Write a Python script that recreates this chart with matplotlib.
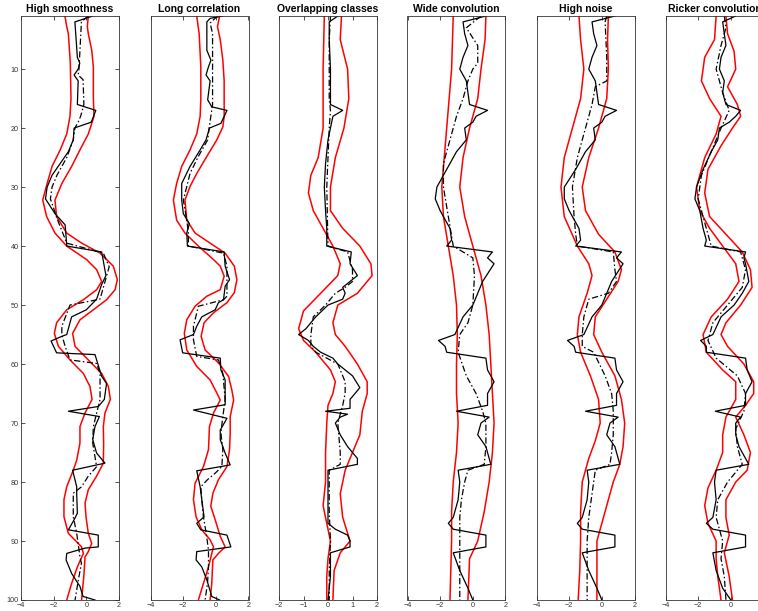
import numpy as np
import matplotlib
matplotlib.use("Agg")
import matplotlib.pyplot as plt

plt.rcParams['font.family'] = ['Liberation Sans', 'DejaVu Sans']

# panel titles and x ranges
titles = ["High smoothness", "Long correlation", "Overlapping classes",
          "Wide convolution", "High noise", "Ricker convolution"]
xlims = [(-4, 2), (-4, 2), (-2, 2), (-4, 2), (-4, 2), (-4, 2)]

# ---- High smoothness ----
hs_true_d = [1, 2, 8, 9, 10, 11, 12, 16, 17, 19, 20, 22, 24, 26, 28, 30, 32, 34.5, 36.4, 39.8, 40,
             41, 45, 46.5, 49, 50.8, 52, 53, 55, 55.3, 56.1, 58.1, 58.4, 59.3, 62.1, 63.3, 66, 67.2,
             68, 68.9, 70.6, 72.8, 75.1, 76.8, 78, 80.8, 82, 85.3, 86.4, 88.1, 89, 91, 91.2, 92.1,
             93.2, 95.5, 97.7, 99.4, 100]
hs_true_v = [0.4, -0.7, -0.55, -0.4, -0.5, -0.75, -0.5, -0.55, 0.58, 0.3, -0.75, -0.8, -1.1, -1.6,
             -2.1, -2.4, -2.5, -1.92, -1.3, -1.2, -1.2, 0.94, 1.2, 0.94, 0.63, 0.0, -0.9, -1.0, -1.2,
             -1.5, -2.16, -1.82, 0.53, 0.63, 0.94, 1.24, 1.1, 0.73, -1.1, 0.8, 0.53, 0.39, 0.63,
             1.14, -0.84, -0.59, -0.59, -0.55, -0.75, -1.1, 0.73, 0.73, -0.08, -1.2, -1.24, -0.9,
             -0.39, -0.2, 0.53]
hs_mean_d = [1, 2, 10, 11, 11.8, 16, 18, 19, 20, 22, 25, 28, 30, 32, 36, 39.5, 41.2, 43.5, 49,
             50, 53.6, 55, 57, 59.3, 59.9, 61.6, 66, 68.3, 70.6, 73.4, 77.4, 79, 80.8, 81.9, 85.9,
             88.7, 92.7, 93.8, 96.6, 100]
hs_mean_v = [0.1, -0.3, -0.45, -0.5, -0.2, -0.15, -0.35, -0.5, -0.7, -0.8, -1.2, -1.8, -2.1,
             -2.2, -1.7, -1.2, 1.04, 1.4, 0.84, -1.0, -1.5, -1.5, -1.3, -1.0, 0.63, 0.84, 0.84,
             0.63, 0.43, 0.39, 0.63, 0.12, -0.29, -0.8, -0.8, -0.59, -0.39, -0.3, -0.49, -0.69]
hs_lo_d = [1, 2.8, 4, 9, 15, 18, 21, 23.7, 26.5, 29.4, 32.2, 35, 37.8, 40, 42.3, 44, 46, 47.4,
           49.1, 50.8, 53, 54.8, 57, 59.3, 61.6, 63.8, 66, 68.3, 70.6, 73.4, 76.3, 78, 80.8, 83,
           85.9, 88.7, 91, 92.1, 94.4, 97.2, 100]
hs_lo_v = [-1.31, -1.2, -1.1, -0.98, -0.94, -1.0, -1.2, -1.6, -2.1, -2.4, -2.67, -2.43, -1.92,
           -1.2, 0.02, 0.63, 0.94, 0.63, -0.18, -1.2, -1.82, -1.96, -1.71, -1.0, -0.18, 0.22,
           0.35, -0.08, -0.39, -0.39, -0.59, -0.8, -1.2, -1.37, -1.37, -1.1, -0.29, -0.18, -0.55,
           -0.9, -1.2]
hs_hi_d = [1, 2.8, 4, 6.8, 9.6, 15, 18, 21, 23.7, 26.5, 29.4, 32.2, 35, 37.8, 39.5, 41.2, 43.4,
           45.7, 47.4, 49.1, 50.8, 52.5, 54.8, 57, 59.3, 61.6, 63.8, 66, 68.3, 70.6, 73.4, 76.8,
           79, 81.3, 83.6, 85.9, 88.7, 90.4, 91.8, 92.7, 95.5, 100]
hs_hi_v = [0.12, 0.06, 0.12, 0.33, 0.43, 0.43, 0.47, 0.12, -0.39, -0.9, -1.5, -1.92, -1.82, -1.2,
           -0.29, 0.84, 1.65, 1.9, 1.76, 1.24, 0.43, -0.39, -0.84, -0.69, 0.12, 0.94, 1.35, 1.47,
           1.14, 1.04, 1.06, 1.04, 0.63, 0.12, -0.08, -0.02, 0.12, 0.33, 0.12, -0.08, -0.14, -0.29]

# ---- Long correlation ----
lc_true_d = [1, 1.4, 2, 6.8, 8.5, 9.6, 11, 12, 15.2, 16.4, 17, 17.6, 19.2, 20, 22, 23.7, 26.5, 29.4,
             32.2, 34.5, 36.2, 37.8, 40, 41, 43.4, 45.7, 46.8, 49.1, 49.6, 50.8, 52, 53.6, 55, 55.9,
             58.1, 59, 61, 62.7, 66, 66.9, 67.8, 69.2, 71.2, 72.8, 75.1, 77.1, 78.1, 80.8, 83, 85.9,
             87, 88.1, 89, 91, 91.8, 93.2, 94.4, 96.6, 99.4, 100]
lc_true_v = [0.43, -0.35, -0.55, -0.55, -0.3, -0.45, -0.6, -0.35, -0.5, -0.25, 0.68, 0.58, 0.31,
             -0.39, -0.6, -0.96, -1.58, -2.09, -2.09, -1.99, -1.62, -1.78, -1.74, 0.51, 0.57, 0.84,
             0.57, 0.47, 0.16, -0.04, -0.86, -1.17, -1.37, -2.19, -2.03, 0.27, 0.31, 0.57, 0.57,
             0.57, -1.37, 0.68, 0.27, 0.27, 0.57, 0.88, -1.17, -0.96, -0.86, -0.72, -1.17, -0.92,
             0.68, 0.92, -1.17, -1.21, -0.86, -0.55, -0.25, 0.23]
lc_mean_d = [1, 2.2, 4, 16, 19.8, 22, 24.8, 27.7, 32.2, 35.6, 37.8, 40, 41.2, 43.4, 48.5, 49.1,
             50.2, 53.6, 55.9, 58.7, 59.3, 61.6, 66, 68.9, 71.7, 74.5, 77.4, 78.5, 79.6, 80.8, 83,
             85.9, 88.7, 91.5, 94.4, 97.2, 100]
lc_mean_v = [0.1, -0.35, -0.2, -0.2, -0.4, -0.5, -1.07, -1.58, -1.99, -1.78, -1.68, -1.68, 0.47,
             0.68, 0.68, 0.47, -1.07, -1.37, -1.37, -1.17, 0.16, 0.43, 0.57, 0.43, 0.31, 0.43,
             0.37, -0.04, -0.51, -0.92, -0.86, -0.76, -0.59, -0.45, -0.45, -0.51, -0.66]
lc_lo_d = [1, 4, 9.6, 15.2, 18, 21, 23.7, 26.5, 29.4, 32.2, 35.6, 37.8, 40, 42.3, 43.4, 45.1,
           47.4, 48.5, 50.2, 52.5, 54.8, 57.6, 60.4, 62.7, 64.9, 66.1, 68.3, 70.6, 74.5, 77.4,
           80.2, 83, 85.9, 88.1, 89.8, 91, 92.1, 94.4, 97.2, 100]
lc_lo_v = [-1.17, -1.02, -0.92, -0.92, -0.96, -1.17, -1.58, -2.09, -2.4, -2.6, -2.4, -1.89, -1.07,
           -0.14, 0.27, 0.51, 0.27, -0.55, -1.27, -1.78, -1.93, -1.78, -1.17, -0.35, 0.06, 0.27,
           -0.14, -0.39, -0.45, -0.76, -1.27, -1.37, -1.21, -0.86, -0.35, -0.14, -0.25, -0.45,
           -0.76, -1.07]
lc_hi_d = [1, 2.8, 5, 8.5, 12, 18, 19.8, 22, 24.8, 27.7, 29.9, 32.2, 35.6, 37.8, 39.5, 41.2,
           43.4, 45.7, 47.9, 49.6, 51.3, 53, 55.3, 57.6, 59.8, 62.1, 64.4, 66.1, 68.9, 71.7, 74.5,
           77.4, 79.6, 81.9, 84.1, 86.4, 89.2, 91, 92.1, 93.2, 97.2, 100]
lc_hi_v = [0.23, 0.1, 0.27, 0.43, 0.51, 0.51, 0.43, 0.06, -0.55, -1.17, -1.58, -1.89, -1.78,
           -1.27, -0.35, 0.57, 1.13, 1.29, 1.13, 0.68, -0.14, -0.72, -0.9, -0.66, 0.16, 0.78,
           0.98, 1.09, 0.88, 0.88, 0.84, 0.68, 0.16, -0.18, -0.31, -0.04, 0.27, 0.57, 0.16, -0.18,
           -0.25, -0.35]

# ---- Overlapping classes ----
oc_true_d = [1, 2, 5, 10, 14, 16, 17, 18, 20, 22, 26, 30, 34, 37, 40, 41, 43, 45, 46, 47, 48, 49,
             50, 52, 54, 55, 56, 57, 58, 59, 60, 61, 62, 64, 65, 66, 67.5, 68, 68.5, 69, 70, 72,
             74, 76, 77, 78, 80, 84, 87, 88, 89, 90, 91, 92, 94, 96, 98, 100]
oc_true_v = [0.4, 0.05, 0.05, 0.1, 0.1, 0.1, 0.6, 0.2, 0.1, 0.0, -0.1, -0.15, -0.1, -0.05, -0.05,
             0.95, 0.9, 1.2, 0.9, 0.6, 0.7, 0.6, 0.0, -0.5, -0.9, -1.2, -0.8, -0.6, -0.3, 0.2,
             0.4, 0.7, 1.0, 1.3, 1.1, 0.9, 0.9, -0.1, 0.8, 0.5, 0.3, 0.5, 0.8, 1.2, 1.2, 0.0, 0.0,
             0.0, 0.0, 0.3, 0.8, 0.9, 0.9, 0.1, 0.1, 0.1, 0.05, 0.0]
oc_mean_d = [1, 5, 15, 17, 20, 30, 40, 41, 44, 46, 47, 48, 50, 52, 55, 57, 58, 60, 63, 65, 67,
             70, 75, 77, 78, 85, 90, 95, 100]
oc_mean_v = [0.1, 0.05, 0.05, 0.1, 0.05, -0.05, 0.0, 0.8, 1.0, 1.0, 0.7, 0.3, -0.1, -0.6, -0.7,
             -0.7, -0.5, 0.4, 0.7, 0.7, 0.6, 0.4, 0.5, 0.5, 0.05, 0.05, 0.1, 0.05, 0.05]
oc_lo_d = [1, 10, 20, 25, 28, 31, 34, 37, 40, 43, 45, 48, 51, 54, 56, 58, 61, 63, 65, 67, 70, 75,
           80, 84, 87, 90, 93, 96, 100]
oc_lo_v = [-0.15, -0.2, -0.2, -0.4, -0.7, -0.8, -0.6, -0.2, 0.2, 0.5, 0.4, -0.3, -1.0, -1.2,
           -1.0, -0.5, 0.1, 0.3, 0.2, 0.0, -0.05, -0.1, -0.1, -0.2, -0.05, 0.1, 0.0, -0.05, -0.05]
oc_hi_d = [1, 5, 10, 15, 20, 25, 30, 34, 37, 40, 43, 45, 48, 50, 53, 55, 57, 60, 63, 65, 68, 72,
           75, 78, 82, 86, 90, 92, 95, 100]
oc_hi_v = [0.55, 0.5, 0.8, 0.85, 0.65, 0.3, 0.1, 0.1, 0.6, 1.3, 1.75, 1.8, 1.2, 0.4, 0.2, 0.3,
           0.7, 1.2, 1.6, 1.6, 1.4, 1.3, 1.0, 0.7, 0.5, 0.6, 0.9, 0.5, 0.25, 0.2]

# ---- Wide convolution ----
wc_true_d = [1, 2, 4, 6, 8, 10, 12, 14, 16, 17, 18, 19, 20, 22, 24, 27, 30, 32, 34, 37, 39, 40,
             41, 42, 43, 46, 48, 50, 52, 55, 56, 57, 58, 59, 61, 63, 65, 67, 68, 69, 70, 72, 74,
             77, 78, 80, 83, 86, 87, 88, 89, 91, 92, 95, 98, 100]
wc_true_v = [0.8, -0.6, -0.5, -0.3, -0.6, -0.8, -0.4, -0.3, -0.2, 0.9, 0.2, 0.0, -0.5, -0.4,
             -1.0, -1.6, -2.2, -2.3, -2.0, -1.4, -1.3, -1.6, 1.2, 0.9, 1.3, 0.6, 0.3, 0.0, -0.6,
             -1.1, -2.1, -1.7, -1.6, 0.8, 0.9, 1.3, 0.9, 0.9, -1.0, 1.0, 0.5, 0.3, 0.8, 1.1, -0.9,
             -0.8, -0.9, -1.2, -1.5, -1.2, 0.8, 0.8, -1.2, -0.8, -0.3, 0.0]
wc_mean_d = [1, 3, 6, 9, 10, 12, 15, 18, 22, 26, 30, 35, 40, 42, 45, 50, 53, 55, 58, 62, 65, 68,
             70, 74, 77, 78, 80, 83, 86, 90, 95, 100]
wc_mean_v = [0.5, -0.4, 0.3, 0.3, 0.0, -0.3, -0.6, -1.0, -1.4, -1.8, -1.8, -1.5, -1.2, 0.0, 0.1,
             0.0, -0.3, -0.8, -0.9, -0.4, 0.2, 0.6, 0.8, 0.8, 0.7, -0.3, -0.5, -0.7, -0.8, -0.8,
             -0.8, -0.8]
wc_lo_d = [1, 10, 20, 30, 35, 40, 45, 50, 55, 60, 65, 70, 75, 80, 85, 90, 95, 100]
wc_lo_v = [-1.2, -1.3, -1.6, -1.9, -1.8, -1.5, -1.2, -1.0, -0.95, -1.0, -1.0, -0.9, -1.0, -1.2,
           -1.3, -1.3, -1.35, -1.4]
wc_hi_d = [1, 5, 10, 15, 20, 25, 30, 35, 40, 45, 50, 55, 60, 65, 70, 75, 80, 85, 90, 93, 100]
wc_hi_v = [0.8, 0.75, 0.5, 0.3, -0.2, -0.6, -0.8, -0.5, 0.0, 0.5, 0.8, 1.0, 1.1, 1.2, 1.3, 1.2,
           1.0, 0.7, 0.3, -0.2, -0.3]

# ---- High noise ----
hn_true_d = [1, 2, 4, 6, 8, 10, 12, 14, 16, 17, 18, 19, 20, 22, 24, 27, 30, 32, 34, 37, 39, 40,
             41, 42, 43, 46, 48, 50, 52, 55, 56, 57, 58, 59, 61, 63, 65, 67, 68, 69, 70, 72, 74,
             77, 78, 80, 83, 86, 87, 88, 89, 91, 92, 95, 98, 100]
hn_true_v = [0.8, -0.6, -0.5, -0.3, -0.6, -0.8, -0.4, -0.3, -0.2, 0.9, 0.2, 0.0, -0.5, -0.4,
             -1.0, -1.6, -2.3, -2.3, -2.0, -1.4, -1.3, -1.6, 1.2, 0.9, 1.3, 0.6, 0.3, 0.0, -0.6,
             -1.1, -2.1, -1.7, -1.6, 0.8, 0.9, 1.3, 0.9, 0.9, -1.0, 1.0, 0.5, 0.3, 0.8, 1.1, -0.9,
             -0.8, -0.9, -1.2, -1.5, -1.2, 0.8, 0.8, -1.2, -0.8, -0.3, 0.0]
hn_mean_d = [1, 2, 8, 12, 13, 16, 20, 25, 30, 35, 38, 40, 41, 44, 46, 48, 49, 52, 55, 57, 58, 62,
             65, 68, 72, 75, 77, 78, 82, 86, 90, 95, 100]
hn_mean_v = [0.3, 0.2, 0.3, 0.3, -0.4, -0.6, -1.0, -1.5, -1.8, -1.7, -1.6, -1.5, 0.7, 0.8, 0.9,
             0.4, -0.8, -1.1, -1.2, -1.2, -0.5, 0.2, 0.6, 0.7, 0.7, 0.6, 0.5, -0.4, -0.6, -0.8,
             -0.9, -0.9, -0.9]
hn_lo_d = [1, 5, 10, 15, 20, 25, 30, 35, 40, 43, 45, 48, 52, 55, 58, 62, 66, 70, 73, 76, 80, 85,
           90, 95, 100]
hn_lo_v = [-1.4, -1.3, -1.1, -1.3, -1.8, -2.3, -2.5, -2.3, -1.5, -0.8, -0.6, -0.9, -1.4, -1.5,
           -1.3, -0.7, -0.2, -0.1, -0.4, -0.8, -1.2, -1.3, -1.3, -1.35, -1.45]
hn_hi_d = [1, 5, 10, 15, 20, 25, 30, 34, 38, 41, 44, 46, 49, 52, 55, 58, 62, 66, 70, 74, 77, 80,
           85, 88, 90, 95, 100]
hn_hi_v = [0.4, 0.35, 0.4, 0.3, -0.2, -0.8, -1.2, -1.0, -0.2, 0.8, 1.2, 1.0, 0.3, -0.4, -0.5,
           0.0, 0.8, 1.2, 1.4, 1.3, 1.1, 0.7, 0.2, -0.1, -0.3, -0.3, -0.3]

# ---- Ricker convolution ----
rc_true_d = [1, 2, 4, 6, 8, 10, 12, 14, 16, 17, 18, 19, 20, 22, 24, 27, 30, 32, 34, 37, 39, 40,
             41, 42, 43, 46, 48, 50, 52, 55, 56, 57, 58, 59, 61, 63, 65, 67, 68, 69, 70, 72, 74,
             77, 78, 80, 83, 86, 87, 88, 89, 91, 92, 95, 98, 100]
rc_true_v = [0.3, -0.5, -0.4, -0.3, -0.6, -0.7, -0.4, -0.5, -0.3, 0.6, 0.3, -0.1, -0.7, -0.8,
             -1.2, -1.7, -2.1, -2.2, -1.9, -1.7, -1.5, -1.6, 0.9, 0.8, 0.9, 1.1, 0.7, 0.2, -0.6,
             -1.1, -1.85, -1.5, -1.5, 0.9, 1.0, 1.3, 0.9, 0.9, -0.95, 0.6, 0.3, 0.3, 0.5, 1.1,
             -0.9, -1.0, -0.9, -1.1, -1.5, -1.1, 0.9, 0.9, -1.1, -0.9, -0.5, 0.0]
rc_mean_d = [1, 3, 6, 10, 14, 17, 20, 24, 28, 32, 36, 40, 41, 44, 47, 50, 53, 56, 59, 62, 65, 68,
             71, 74, 77, 80, 83, 86, 90, 93, 96, 100]
rc_mean_v = [-0.4, -0.3, -0.6, -0.9, -0.5, -0.1, -0.6, -1.2, -1.8, -2.0, -1.6, -1.2, 0.6, 0.9,
             0.7, -0.2, -1.1, -1.4, -0.9, 0.4, 0.9, 0.8, 0.3, 0.4, 0.7, -0.2, -0.8, -0.9, -0.5,
             -0.6, -0.4, -0.3]
rc_lo_d = [1, 5, 8, 12, 15, 18, 21, 25, 30, 34, 37, 40, 43, 46, 49, 52, 55, 58, 61, 63, 66, 69,
           72, 75, 78, 81, 84, 87, 90, 93, 96, 100]
rc_lo_v = [-0.9, -1.0, -1.6, -1.8, -1.3, -0.6, -0.9, -1.6, -2.1, -1.9, -1.3, -0.5, 0.3, 0.5, -0.2,
           -1.2, -1.7, -1.5, -0.5, 0.3, 0.3, -0.3, -0.5, -0.5, -0.9, -1.4, -1.6, -1.4, -0.9, -0.9,
           -0.8, -0.6]
rc_hi_d = [1, 4, 7, 10, 13, 16, 18, 20, 23, 27, 31, 35, 38, 41, 44, 47, 50, 53, 55, 57, 60, 63,
           65, 67, 69, 72, 75, 78, 80, 83, 86, 89, 92, 96, 100]
rc_hi_v = [-0.3, -0.2, 0.2, 0.3, -0.2, 0.4, 0.6, 0.1, -0.6, -1.4, -1.6, -1.3, -0.3, 0.7, 1.2, 1.3,
           0.6, -0.3, -0.6, -0.2, 0.8, 1.4, 1.4, 0.9, 0.3, 0.8, 1.2, 1.0, 0.3, -0.3, -0.3, -0.1,
           -0.4, -0.1, 0.1]

panels = [
    (hs_true_d, hs_true_v, hs_mean_d, hs_mean_v, hs_lo_d, hs_lo_v, hs_hi_d, hs_hi_v),
    (lc_true_d, lc_true_v, lc_mean_d, lc_mean_v, lc_lo_d, lc_lo_v, lc_hi_d, lc_hi_v),
    (oc_true_d, oc_true_v, oc_mean_d, oc_mean_v, oc_lo_d, oc_lo_v, oc_hi_d, oc_hi_v),
    (wc_true_d, wc_true_v, wc_mean_d, wc_mean_v, wc_lo_d, wc_lo_v, wc_hi_d, wc_hi_v),
    (hn_true_d, hn_true_v, hn_mean_d, hn_mean_v, hn_lo_d, hn_lo_v, hn_hi_d, hn_hi_v),
    (rc_true_d, rc_true_v, rc_mean_d, rc_mean_v, rc_lo_d, rc_lo_v, rc_hi_d, rc_hi_v),
]

W, H = 758, 611
fig = plt.figure(figsize=(W / 100, H / 100), dpi=100)
lefts = [21, 150.5, 279, 407.5, 536.5, 665.5]
axcol = '#333333'

for i, (left, title, xl, p) in enumerate(zip(lefts, titles, xlims, panels)):
    td, tv, md, mv, ld, lv, hd, hv = p
    ax = fig.add_axes([left / W, 11 / H, 98 / W, 584 / H])
    # bounds in red, model in solid black, mean in dash-dot
    ax.plot(lv, ld, color='red', lw=1.1)
    ax.plot(hv, hd, color='red', lw=1.1)
    ax.plot(tv, td, color='black', lw=0.9)
    ax.plot(mv, md, color='black', lw=0.9, linestyle=(0, (5, 2, 1.2, 2)))
    ax.set_xlim(*xl)
    ax.set_ylim(100, 1)
    if xl[0] == -2:
        ax.set_xticks([-2, -1, 0, 1, 2])
    else:
        ax.set_xticks([-4, -2, 0, 2])
    if i == 0:
        ax.set_yticks(np.arange(10, 101, 10))
    else:
        ax.set_yticks([])
    ax.tick_params(direction='in', top=True, right=True, length=3, width=0.6,
                   labelsize=5.2, colors=axcol, pad=1.5)
    for s in ax.spines.values():
        s.set_linewidth(0.6)
        s.set_color(axcol)
    ax.set_title(title, fontsize=7.5, fontweight='bold', pad=3)

fig.savefig("out.png", dpi=100)
